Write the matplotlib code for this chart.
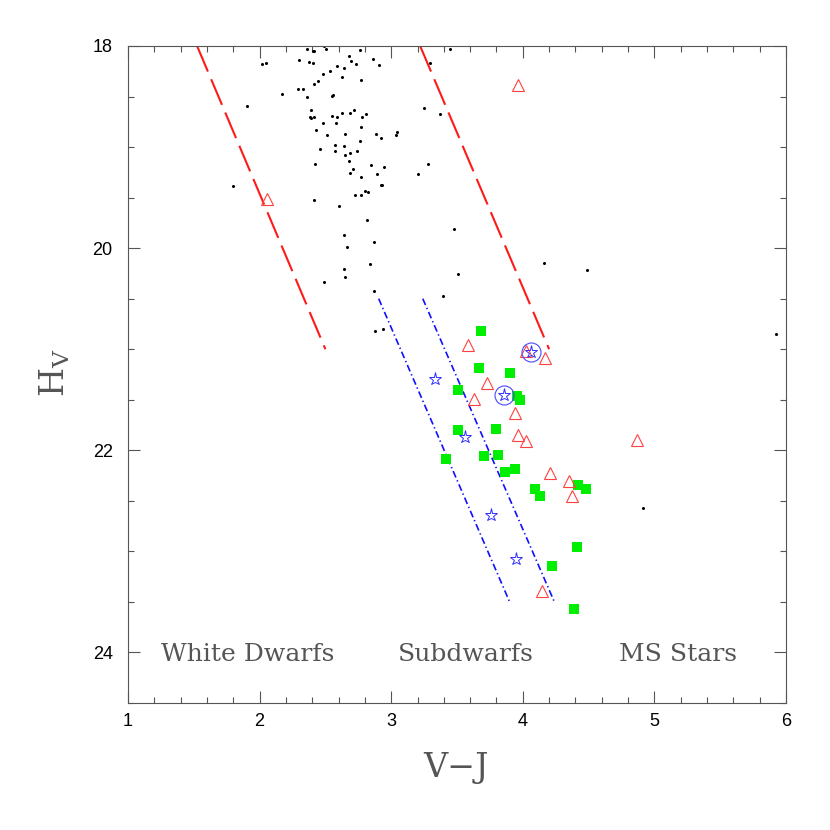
import matplotlib
matplotlib.use("Agg")
import matplotlib.pyplot as plt

plt.rcParams["mathtext.fontset"] = "dejavuserif"
plt.rcParams["lines.scale_dashes"] = False

# --- data ---
# field stars (black dots)
dot_x = [2.358, 2.403, 2.413, 2.489, 2.504, 2.763, 2.677, 2.697, 2.735, 2.864,
         2.907, 2.016, 2.048, 2.299, 2.373, 2.408, 2.588, 2.641, 2.537, 2.484,
         2.444, 2.411, 2.624, 2.773, 2.294, 2.330, 2.360, 2.168, 2.553, 2.560,
         1.904, 2.393, 2.380, 2.390, 2.411, 2.550, 2.588, 2.626, 2.689, 2.720,
         2.781, 2.806, 2.482, 2.578, 2.773, 2.426, 2.512, 2.646, 2.882, 2.925,
         3.039, 3.046, 2.763, 2.461, 2.575, 2.570, 2.641, 2.651, 2.684, 2.737,
         2.423, 2.682, 2.712, 2.689, 2.849, 2.945, 2.892, 2.770, 2.922, 2.932,
         2.801, 2.826, 2.725, 2.770, 3.252, 3.282, 3.201, 1.795, 2.411, 2.606,
         2.816, 2.639, 2.661, 2.869, 2.841, 2.644, 2.651, 2.487, 2.869, 2.874,
         2.940, 3.444, 3.292, 3.371, 3.480, 4.159, 4.488, 3.510, 3.391, 5.924,
         4.911]
dot_y = [18.03, 18.05, 18.05, 18.00, 18.03, 18.04, 18.10, 18.15, 18.18, 18.13,
         18.19, 18.18, 18.17, 18.14, 18.16, 18.17, 18.20, 18.22, 18.25, 18.28,
         18.35, 18.38, 18.31, 18.34, 18.43, 18.43, 18.50, 18.47, 18.49, 18.48,
         18.59, 18.63, 18.70, 18.71, 18.70, 18.69, 18.70, 18.66, 18.66, 18.63,
         18.70, 18.67, 18.76, 18.76, 18.80, 18.83, 18.88, 18.87, 18.87, 18.91,
         18.88, 18.85, 18.94, 19.02, 18.98, 19.04, 18.99, 19.08, 19.06, 19.04,
         19.17, 19.14, 19.22, 19.26, 19.18, 19.20, 19.27, 19.30, 19.38, 19.38,
         19.43, 19.44, 19.47, 19.47, 18.61, 19.17, 19.27, 19.39, 19.52, 19.58,
         19.72, 19.87, 19.99, 19.94, 20.16, 20.21, 20.29, 20.33, 20.42, 20.82,
         20.80, 18.03, 18.17, 18.67, 19.81, 20.15, 20.22, 20.26, 20.47, 20.85,
         22.57]

# green squares
sq_x = [3.685, 3.670, 3.900, 3.510, 3.958, 3.981, 3.508, 3.796, 3.414, 3.708,
        3.814, 3.943, 3.867, 4.095, 4.133, 4.417, 4.483, 4.412, 4.219, 4.389]
sq_y = [20.82, 21.19, 21.24, 21.40, 21.46, 21.50, 21.80, 21.79, 22.09, 22.06,
        22.05, 22.18, 22.21, 22.38, 22.45, 22.34, 22.38, 22.96, 23.14, 23.57]

# red open triangles
tri_x = [2.058, 3.964, 3.586, 4.021, 4.166, 3.731, 3.629, 3.938, 3.964, 4.021,
         4.207, 4.351, 4.376, 4.148, 4.870]
tri_y = [19.51, 18.39, 20.96, 21.02, 21.09, 21.33, 21.49, 21.63, 21.85, 21.91,
         22.22, 22.30, 22.45, 23.39, 21.90]

# blue open stars, two of them circled
star_x = [3.336, 4.064, 3.859, 3.558, 3.758, 3.948]
star_y = [21.29, 21.03, 21.45, 21.87, 22.64, 23.08]
circ_x = [4.064, 3.859]
circ_y = [21.03, 21.45]

# selection boundaries
red1_x, red1_y = [1.525, 2.50], [18.0, 21.0]
red2_x, red2_y = [3.22, 4.20], [18.0, 21.0]
blue1_x, blue1_y = [2.905, 3.90], [20.5, 23.5]
blue2_x, blue2_y = [3.24, 4.24], [20.5, 23.5]

region_labels = ["White Dwarfs", "Subdwarfs", "MS Stars"]
region_x = [1.908, 3.565, 5.18]

# --- plot ---
fig = plt.figure(figsize=(8.3, 8.3), dpi=100)
ax = fig.add_axes([128 / 830, 127 / 830, 658 / 830, 657 / 830])

ax.plot(red1_x, red1_y, color="#ff1a1a", lw=1.5, dashes=(20, 6))
ax.plot(red2_x, red2_y, color="#ff1a1a", lw=1.5, dashes=(20, 6))
ax.plot(blue1_x, blue1_y, color="#1010ff", lw=1.2, dashes=(5, 2.2, 1, 2.2))
ax.plot(blue2_x, blue2_y, color="#1010ff", lw=1.2, dashes=(5, 2.2, 1, 2.2))

ax.plot(dot_x, dot_y, "o", color="black", ms=2.2, mew=0)
ax.plot(sq_x, sq_y, "s", color="#00ee00", ms=7, mew=0)
ax.plot(tri_x, tri_y, "^", mfc="none", mec="#ff4040", ms=8, mew=0.8)
ax.plot(star_x, star_y, "*", mfc="none", mec="#2f2fff", ms=9.5, mew=0.7)
ax.plot(circ_x, circ_y, "o", mfc="none", mec="#4a4aff", ms=13.7, mew=0.8)

for lab, xx in zip(region_labels, region_x):
    ax.text(xx, 24.08, lab, ha="center", va="baseline", family="DejaVu Serif",
            fontsize=18, color="#555555")

ax.set_xlim(1, 6)
ax.set_ylim(24.5, 18)
ax.set_xticks([1, 2, 3, 4, 5, 6])
ax.set_xticks([1 + 0.2 * i for i in range(26)], minor=True)
ax.set_yticks([18, 20, 22, 24])
ax.set_yticks([18 + 0.5 * i for i in range(14)], minor=True)

ax.tick_params(which="both", direction="in", top=True, right=True,
               color="#555555", width=0.8)
ax.tick_params(which="major", length=8.5)
ax.tick_params(which="minor", length=4.5)
ax.tick_params(axis="x", which="major", pad=7)
ax.tick_params(axis="y", which="major", pad=11)
for lab in ax.get_xticklabels() + ax.get_yticklabels():
    lab.set_family("Liberation Sans")
    lab.set_fontsize(13)
for sp in ax.spines.values():
    sp.set_color("#555555")
    sp.set_linewidth(0.8)

ax.set_xlabel("V\u2212J", family="DejaVu Serif", fontsize=24, color="#555555",
              va="baseline")
ax.xaxis.set_label_coords((456 - 128) / 658, (703 - 777) / 657)
ax.set_ylabel(r"$\mathrm{H_V}$", fontsize=24, color="#555555",
              ha="center", va="center")
ax.yaxis.set_label_coords((55 - 128) / 658, (703 - 373) / 657)

fig.savefig("out.png", dpi=100)
